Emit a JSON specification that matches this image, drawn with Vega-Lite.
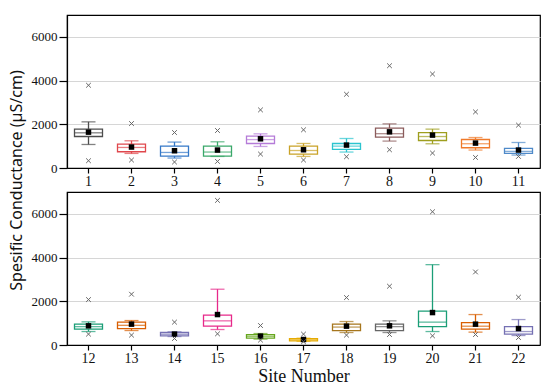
{
  "$schema": "https://vega.github.io/schema/vega-lite/v6.json",
  "padding": {"left": 7, "top": 14, "right": 11, "bottom": 2},
  "background": "white",
  "datasets": {
    "boxes": [
      {"site": 1, "xmin": 333, "lo": 1076, "q1": 1441, "med": 1610, "q3": 1778, "hi": 2111, "xmax": 3785, "mean": 1640},
      {"site": 2, "xmin": 365, "lo": 666, "q1": 743, "med": 940, "q3": 1094, "hi": 1245, "xmax": 2034, "mean": 958},
      {"site": 3, "xmin": 274, "lo": 456, "q1": 547, "med": 711, "q3": 1003, "hi": 1186, "xmax": 1623, "mean": 789},
      {"site": 4, "xmin": 301, "lo": 529, "q1": 547, "med": 730, "q3": 1003, "hi": 1199, "xmax": 1715, "mean": 821},
      {"site": 5, "xmin": 638, "lo": 985, "q1": 1122, "med": 1300, "q3": 1459, "hi": 1564, "xmax": 2658, "mean": 1336},
      {"site": 6, "xmin": 365, "lo": 529, "q1": 638, "med": 800, "q3": 1003, "hi": 1122, "xmax": 1746, "mean": 834},
      {"site": 7, "xmin": 515, "lo": 730, "q1": 848, "med": 1000, "q3": 1122, "hi": 1350, "xmax": 3374, "mean": 1049},
      {"site": 8, "xmin": 834, "lo": 1231, "q1": 1414, "med": 1570, "q3": 1824, "hi": 2020, "xmax": 4679, "mean": 1655},
      {"site": 9, "xmin": 684, "lo": 1108, "q1": 1259, "med": 1440, "q3": 1623, "hi": 1778, "xmax": 4300, "mean": 1505},
      {"site": 10, "xmin": 483, "lo": 821, "q1": 926, "med": 1110, "q3": 1304, "hi": 1395, "xmax": 2567, "mean": 1140},
      {"site": 11, "xmin": 529, "lo": 593, "q1": 666, "med": 760, "q3": 894, "hi": 1167, "xmax": 1961, "mean": 821},
      {"site": 12, "xmin": 498, "lo": 616, "q1": 726, "med": 840, "q3": 954, "hi": 1059, "xmax": 2078, "mean": 877},
      {"site": 13, "xmin": 452, "lo": 662, "q1": 753, "med": 900, "q3": 1046, "hi": 1119, "xmax": 2324, "mean": 954},
      {"site": 14, "xmin": 297, "lo": 388, "q1": 420, "med": 490, "q3": 571, "hi": 603, "xmax": 1046, "mean": 498},
      {"site": 15, "xmin": 511, "lo": 708, "q1": 863, "med": 1105, "q3": 1365, "hi": 2552, "xmax": 6616, "mean": 1393},
      {"site": 16, "xmin": 224, "lo": 269, "q1": 315, "med": 400, "q3": 479, "hi": 525, "xmax": 890, "mean": 406},
      {"site": 17, "xmin": 150, "lo": 170, "q1": 190, "med": 240, "q3": 290, "hi": 310, "xmax": 498, "mean": 251},
      {"site": 18, "xmin": 452, "lo": 571, "q1": 662, "med": 820, "q3": 954, "hi": 1074, "xmax": 2170, "mean": 862},
      {"site": 19, "xmin": 479, "lo": 571, "q1": 662, "med": 840, "q3": 954, "hi": 1105, "xmax": 2689, "mean": 877},
      {"site": 20, "xmin": 420, "lo": 616, "q1": 845, "med": 1046, "q3": 1548, "hi": 3676, "xmax": 6096, "mean": 1484},
      {"site": 21, "xmin": 479, "lo": 589, "q1": 726, "med": 860, "q3": 1027, "hi": 1393, "xmax": 3342, "mean": 954},
      {"site": 22, "xmin": 342, "lo": 434, "q1": 498, "med": 616, "q3": 845, "hi": 1164, "xmax": 2187, "mean": 753}
    ]
  },
  "config": {
    "view": {"stroke": "black", "strokeWidth": 1.2},
    "axis": {
      "labelFont": "Liberation Serif",
      "labelFontSize": 14,
      "labelColor": "#111",
      "titleFont": "Liberation Serif",
      "titleFontWeight": "normal",
      "titleColor": "#111",
      "domainColor": "black",
      "tickColor": "black",
      "domainWidth": 1.2,
      "tickWidth": 1.2
    }
  },
  "bounds": "flush",
  "spacing": 24,
  "vconcat": [
    {
      "width": 473,
      "height": 153,
      "data": {"name": "boxes"},
      "transform": [{"filter": "datum.site <= 11"}],
      "encoding": {
        "x": {"field": "site", "type": "ordinal", "scale": {"paddingInner": 0, "paddingOuter": 0},
              "axis": {"title": null, "labelFont": "Liberation Serif", "labelFontSize": 14, "labelAngle": 0, "tickSize": 5, "labelPadding": 1, "grid": false}}
      },
      "layer": [
        {
          "mark": {"type": "rule", "strokeWidth": 1.3},
          "encoding": {
            "y": {"field": "lo", "type": "quantitative", "scale": {"domain": [0, 7000], "nice": false},
                  "axis": {"title": "Spesific Conductance (µS/cm)", "titleFont": "Noto Sans", "titleFontSize": 16,
                           "titleX": -43, "titleY": 165,
                           "labelFont": "Liberation Serif", "labelFontSize": 13,
                           "values": [0, 1000, 2000, 3000, 4000, 5000, 6000],
                           "labelExpr": "datum.value % 2000 === 0 ? datum.value : ''",
                           "tickSize": {"condition": {"test": "datum.value % 2000 === 0", "value": 8}, "value": 4},
                           "labelPadding": 2, "grid": true, "gridColor": "#d6d6d6", "gridWidth": 1}},
            "y2": {"field": "hi"},
            "color": {"field": "site", "type": "nominal", "legend": null, "scale": {"domain": [1,2,3,4,5,6,7,8,9,10,11,12,13,14,15,16,17,18,19,20,21,22],
              "range": ["#4d4d4d", "#e0474c", "#3478c8", "#3aa86a", "#b57bd8", "#c9a227", "#2cc4cf", "#8c5c5c", "#9e9e1e", "#ef7a2a", "#4f8ac9",
                        "#1b9e77", "#d95f02", "#7570b3", "#e7298a", "#66a61e", "#e6ab02", "#a6761d", "#666666", "#1b9e77", "#d95f02", "#7570b3"]}}
          }
        },
        {
          "mark": {"type": "bar", "size": 28, "fill": "white", "strokeWidth": 1.3},
          "encoding": {
            "y": {"field": "q1", "type": "quantitative"},
            "y2": {"field": "q3"},
            "stroke": {"field": "site", "type": "nominal", "legend": null, "scale": {"domain": [1,2,3,4,5,6,7,8,9,10,11,12,13,14,15,16,17,18,19,20,21,22],
              "range": ["#4d4d4d", "#e0474c", "#3478c8", "#3aa86a", "#b57bd8", "#c9a227", "#2cc4cf", "#8c5c5c", "#9e9e1e", "#ef7a2a", "#4f8ac9",
                        "#1b9e77", "#d95f02", "#7570b3", "#e7298a", "#66a61e", "#e6ab02", "#a6761d", "#666666", "#1b9e77", "#d95f02", "#7570b3"]}}
          }
        },
        {
          "mark": {"type": "tick", "orient": "horizontal", "size": 28, "thickness": 1.3},
          "encoding": {"y": {"field": "med", "type": "quantitative"}, "color": {"field": "site", "type": "nominal", "legend": null}}
        },
        {
          "mark": {"type": "tick", "orient": "horizontal", "size": 14, "thickness": 1.3},
          "encoding": {"y": {"field": "lo", "type": "quantitative"}, "color": {"field": "site", "type": "nominal", "legend": null}}
        },
        {
          "mark": {"type": "tick", "orient": "horizontal", "size": 14, "thickness": 1.3},
          "encoding": {"y": {"field": "hi", "type": "quantitative"}, "color": {"field": "site", "type": "nominal", "legend": null}}
        },
        {
          "mark": {"type": "point", "shape": "square", "filled": true, "size": 30, "color": "black", "opacity": 1},
          "encoding": {"y": {"field": "mean", "type": "quantitative"}}
        },
        {
          "mark": {"type": "point", "shape": "M-1,-1L1,1M1,-1L-1,1", "filled": false, "size": 22, "stroke": "#666", "strokeWidth": 1, "opacity": 1},
          "encoding": {"y": {"field": "xmax", "type": "quantitative"}}
        },
        {
          "mark": {"type": "point", "shape": "M-1,-1L1,1M1,-1L-1,1", "filled": false, "size": 22, "stroke": "#666", "strokeWidth": 1, "opacity": 1},
          "encoding": {"y": {"field": "xmin", "type": "quantitative"}}
        }
      ]
    },
    {
      "width": 473,
      "height": 153,
      "data": {"name": "boxes"},
      "transform": [{"filter": "datum.site >= 12"}],
      "encoding": {
        "x": {"field": "site", "type": "ordinal", "scale": {"paddingInner": 0, "paddingOuter": 0},
              "axis": {"title": "Site Number", "titleFont": "Liberation Serif", "titleFontSize": 18, "titlePadding": 2, "labelFont": "Liberation Serif", "labelFontSize": 14, "labelAngle": 0, "tickSize": 5, "labelPadding": 1, "grid": false}}
      },
      "layer": [
        {
          "mark": {"type": "rule", "strokeWidth": 1.3},
          "encoding": {
            "y": {"field": "lo", "type": "quantitative", "scale": {"domain": [0, 7000], "nice": false},
                  "axis": {"title": null,
                           "labelFont": "Liberation Serif", "labelFontSize": 13,
                           "values": [0, 1000, 2000, 3000, 4000, 5000, 6000],
                           "labelExpr": "datum.value % 2000 === 0 ? datum.value : ''",
                           "tickSize": {"condition": {"test": "datum.value % 2000 === 0", "value": 8}, "value": 4},
                           "labelPadding": 2, "grid": true, "gridColor": "#d6d6d6", "gridWidth": 1}},
            "y2": {"field": "hi"},
            "color": {"field": "site", "type": "nominal", "legend": null}
          }
        },
        {
          "mark": {"type": "bar", "size": 28, "fill": "white", "strokeWidth": 1.3},
          "encoding": {
            "y": {"field": "q1", "type": "quantitative"},
            "y2": {"field": "q3"},
            "stroke": {"field": "site", "type": "nominal", "legend": null}
          }
        },
        {
          "mark": {"type": "tick", "orient": "horizontal", "size": 28, "thickness": 1.3},
          "encoding": {"y": {"field": "med", "type": "quantitative"}, "color": {"field": "site", "type": "nominal", "legend": null}}
        },
        {
          "mark": {"type": "tick", "orient": "horizontal", "size": 14, "thickness": 1.3},
          "encoding": {"y": {"field": "lo", "type": "quantitative"}, "color": {"field": "site", "type": "nominal", "legend": null}}
        },
        {
          "mark": {"type": "tick", "orient": "horizontal", "size": 14, "thickness": 1.3},
          "encoding": {"y": {"field": "hi", "type": "quantitative"}, "color": {"field": "site", "type": "nominal", "legend": null}}
        },
        {
          "mark": {"type": "point", "shape": "square", "filled": true, "size": 30, "color": "black", "opacity": 1},
          "encoding": {"y": {"field": "mean", "type": "quantitative"}}
        },
        {
          "mark": {"type": "point", "shape": "M-1,-1L1,1M1,-1L-1,1", "filled": false, "size": 22, "stroke": "#666", "strokeWidth": 1, "opacity": 1},
          "encoding": {"y": {"field": "xmax", "type": "quantitative"}}
        },
        {
          "mark": {"type": "point", "shape": "M-1,-1L1,1M1,-1L-1,1", "filled": false, "size": 22, "stroke": "#666", "strokeWidth": 1, "opacity": 1},
          "encoding": {"y": {"field": "xmin", "type": "quantitative"}}
        }
      ]
    }
  ]
}
